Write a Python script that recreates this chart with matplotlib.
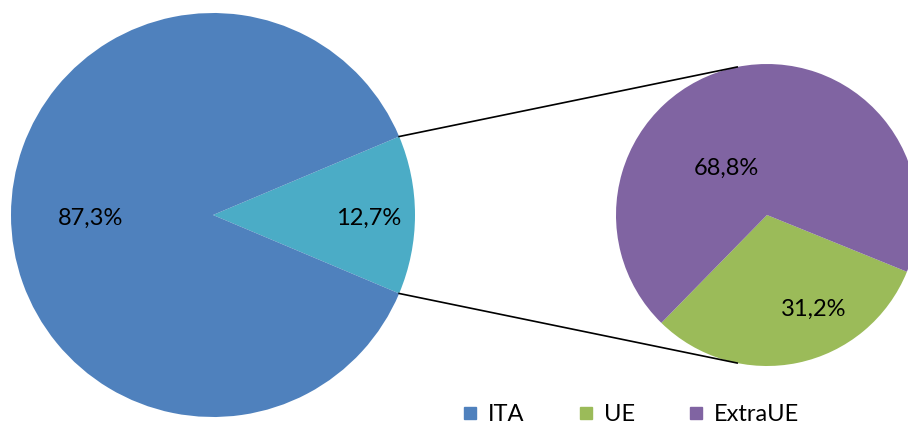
import matplotlib.pyplot as plt
from matplotlib.lines import Line2D
import numpy as np

plt.rcParams['font.family'] = ['Lato', 'DejaVu Sans']

# main pie: Italy vs foreign
main_labels = ["Estero", "ITA"]
main_values = [12.7, 87.3]
main_colors = ["#4BACC6", "#4F81BD"]

# breakdown of the foreign share
sub_labels = ["UE", "ExtraUE"]
sub_values = [31.2, 68.8]
sub_colors = ["#9BBB59", "#8064A2"]

legend_labels = ["ITA", "UE", "ExtraUE"]
legend_colors = ["#4F81BD", "#9BBB59", "#8064A2"]

W, H = 908, 425
fig = plt.figure(figsize=(W / 100, H / 100), dpi=100)
ax = fig.add_axes([0, 0, 1, 1])

c1, r1 = (213, 215), 202
c2, r2 = (767, 215), 151

# y axis is flipped (pixel coords), so angles run clockwise on screen
half = main_values[0] / 100 * 180
ax.pie(main_values, colors=main_colors, startangle=half, counterclock=False,
       center=c1, radius=r1, wedgeprops=dict(linewidth=0), frame=True)
ax.pie(sub_values, colors=sub_colors, startangle=-225.6, counterclock=False,
       center=c2, radius=r2, wedgeprops=dict(linewidth=0), frame=True)

def fmt(v):
    return f"{v:.1f}%".replace(".", ",")

ax.text(91, 218, fmt(main_values[1]), fontsize=17, ha="center", va="center")
ax.text(369, 218, fmt(main_values[0]), fontsize=17, ha="center", va="center")
ax.text(726, 168, fmt(sub_values[1]), fontsize=17, ha="center", va="center")
ax.text(814, 309, fmt(sub_values[0]), fontsize=17, ha="center", va="center")

# connector lines between the slice edge and the second pie
for s in (1, -1):
    a1 = np.radians(half) * s
    a2 = np.radians(101.4) * s
    x1, y1 = c1[0] + r1 * np.cos(a1), c1[1] - r1 * np.sin(a1)
    x2, y2 = c2[0] + r2 * np.cos(a2), c2[1] - r2 * np.sin(a2)
    ax.plot([x1, x2], [y1, y2], color="black", lw=1.2)

ax.set_xlim(0, W)
ax.set_ylim(H, 0)
ax.set_aspect("equal")
ax.axis("off")

handles = [Line2D([], [], marker="s", linestyle="none", markersize=9,
                  markerfacecolor=c, markeredgecolor=c) for c in legend_colors]
ax.legend(handles, legend_labels, loc="center", bbox_to_anchor=(0.695, 0.024),
          ncol=3, frameon=False, fontsize=17, handlelength=0.6,
          handletextpad=0.45, columnspacing=2.3, borderpad=0)

fig.savefig("out.png", dpi=100)
